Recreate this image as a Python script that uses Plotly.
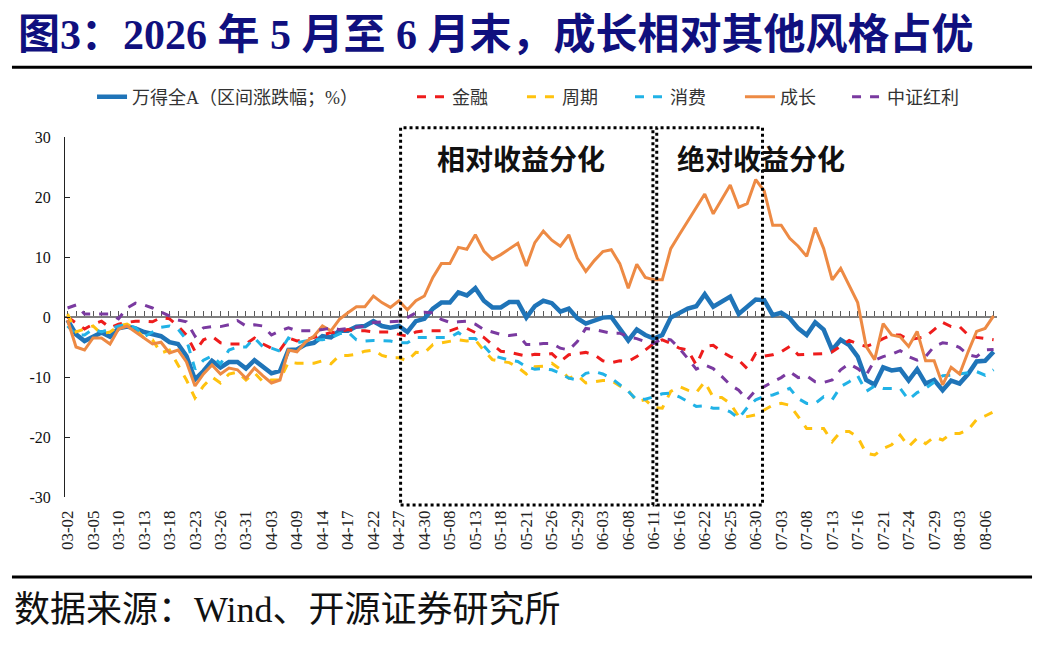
import plotly.graph_objects as go

# Trading days, 2026-03-02 .. 2026-08-07
dates = [
    "03-02", "03-03", "03-04", "03-05", "03-06", "03-09", "03-10", "03-11", "03-12", "03-13",
    "03-16", "03-17", "03-18", "03-19", "03-20", "03-23", "03-24", "03-25", "03-26", "03-27",
    "03-30", "03-31", "04-01", "04-02", "04-03", "04-07", "04-08", "04-09", "04-10", "04-13",
    "04-14", "04-15", "04-16", "04-17", "04-20", "04-21", "04-22", "04-23", "04-24", "04-27",
    "04-28", "04-29", "04-30", "05-06", "05-07", "05-08", "05-11", "05-12", "05-13", "05-14",
    "05-15", "05-18", "05-19", "05-20", "05-21", "05-22", "05-25", "05-26", "05-27", "05-28",
    "05-29", "06-01", "06-02", "06-03", "06-04", "06-05", "06-08", "06-09", "06-10", "06-11",
    "06-12", "06-15", "06-16", "06-17", "06-18", "06-22", "06-23", "06-24", "06-25", "06-26",
    "06-29", "06-30", "07-01", "07-02", "07-03", "07-06", "07-07", "07-08", "07-09", "07-10",
    "07-13", "07-14", "07-15", "07-16", "07-17", "07-20", "07-21", "07-22", "07-23", "07-24",
    "07-27", "07-28", "07-29", "07-30", "07-31", "08-03", "08-04", "08-05", "08-06", "08-07",
]

# 区间涨跌幅（%）
wind_a = [
    -0.5, -2.9, -4.0, -3.2, -2.6, -3.3, -1.9, -1.6, -1.9, -2.5,
    -2.9, -3.2, -4.2, -4.5, -6.5, -10.4, -9.0, -7.3, -8.4, -7.5,
    -7.5, -8.6, -7.2, -8.4, -9.4, -9.0, -5.5, -5.4, -4.6, -4.3,
    -3.2, -3.4, -2.3, -2.3, -1.6, -1.5, -0.7, -1.5, -1.8, -1.5,
    -2.5, -0.7, -0.3, 1.4, 2.4, 2.4, 4.1, 3.6, 4.8, 2.7,
    1.6, 1.6, 2.5, 2.5, -0.1, 1.8, 2.7, 2.3, 0.9, 1.4,
    -0.2, -1.1, -0.5, -0.1, 0.0, -1.9, -3.9, -2.1, -3.0, -3.6,
    -3.0, -0.1, 0.6, 1.4, 1.8, 3.8, 1.7, 2.6, 3.4, 0.5,
    1.6, 2.9, 2.8, 0.3, 0.7, -0.2, -1.9, -3.0, -0.9, -2.1,
    -5.5, -3.8, -4.7, -6.6, -10.5, -11.3, -8.4, -8.9, -8.7, -10.6,
    -8.7, -11.1, -10.5, -12.2, -10.6, -11.1, -9.5, -7.4, -7.3, -5.8,
]
finance = [
    0.0, -1.0, -2.0, -1.2, -0.7, -1.8, -1.2, -0.9, -0.7, -0.7,
    -0.8, -0.1, -0.3, -1.5, -3.0, -5.7, -3.8, -3.2, -4.3, -4.5,
    -4.5, -4.5, -3.5, -4.5, -5.2, -5.5, -3.5, -4.0, -3.8, -3.4,
    -2.9, -2.6, -2.5, -2.1, -2.3, -2.3, -2.5, -2.5, -2.5, -2.9,
    -3.2, -2.5, -2.3, -2.3, -2.3, -2.3, -1.8, -1.9, -2.6, -3.4,
    -4.6, -5.7, -5.9, -6.2, -6.5, -6.2, -6.3, -6.1, -7.4, -6.3,
    -6.1, -5.9, -6.3, -7.3, -7.6, -7.3, -7.4, -6.6, -5.5, -4.4,
    -3.8, -4.4, -5.2, -5.5, -8.0, -4.9, -4.7, -5.8, -6.6, -7.2,
    -8.6, -6.1, -6.5, -6.3, -5.8, -4.9, -6.3, -6.2, -6.2, -6.1,
    -5.8, -4.9, -3.9, -4.5, -4.9, -4.4, -3.6, -3.0, -3.0, -3.8,
    -3.6, -3.3, -2.1, -0.9, -1.6, -1.6, -3.0, -3.4, -3.6, -3.8,
]
cyclical = [
    0.5, -2.5, -2.0, -1.5, -2.8, -2.5, -1.5, -1.2, -2.0, -3.5,
    -3.8, -6.0, -5.5, -8.0, -10.5, -13.5, -11.5, -10.0, -11.0, -9.5,
    -9.2, -10.5, -9.3, -10.8, -10.5, -10.5, -7.5, -7.7, -7.7, -7.7,
    -7.3, -7.8, -6.4, -6.4, -6.2, -5.7, -5.5, -6.4, -6.8, -6.8,
    -7.3, -5.9, -6.0, -4.6, -4.3, -4.0, -3.8, -4.0, -3.8, -5.6,
    -7.1, -7.4, -7.6, -8.4, -9.5, -8.3, -8.2, -7.7, -8.7, -10.2,
    -9.7, -11.0, -10.8, -10.6, -10.6, -11.5, -12.2, -14.1, -13.8, -15.1,
    -15.2, -12.4, -11.6, -12.2, -12.6, -10.8, -13.4, -13.4, -14.4, -16.6,
    -16.6, -16.3, -15.5, -14.7, -14.4, -14.7, -16.6, -18.6, -18.6, -18.6,
    -20.8, -19.1, -19.1, -20.0, -22.7, -23.0, -21.9, -21.3, -19.7, -21.6,
    -20.2, -21.1, -20.0, -20.5, -19.4, -19.4, -18.8, -17.1, -16.5, -15.8,
]
consumer = [
    -1.5, -3.0, -3.0, -2.0, -2.5, -2.0, -1.5, -1.3, -1.8, -3.3,
    -2.5, -1.7, -1.5, -2.0, -3.8, -8.7, -7.2, -6.5, -7.8, -5.5,
    -5.0, -5.0, -3.5, -5.0, -5.2, -5.7, -3.5, -4.3, -4.0, -3.8,
    -3.8, -3.5, -2.8, -2.5, -3.8, -4.0, -3.9, -4.0, -4.0, -4.3,
    -4.3, -3.4, -3.4, -3.4, -3.4, -3.4, -2.6, -3.6, -3.6, -4.8,
    -6.4, -6.8, -7.2, -7.4, -8.3, -8.7, -8.6, -8.8, -9.4, -10.2,
    -10.5, -9.4, -9.1, -9.5, -10.2, -11.3, -12.4, -13.8, -13.7, -13.3,
    -12.8, -12.7, -13.3, -14.1, -14.9, -14.8, -15.2, -15.2, -15.8, -16.9,
    -15.1, -13.8, -13.2, -13.0, -12.4, -11.9, -13.6, -14.4, -14.4, -13.3,
    -13.8, -11.6, -10.8, -9.8, -12.4, -11.5, -11.9, -11.9, -11.9, -13.8,
    -12.6, -11.9, -10.8, -9.8, -9.7, -9.5, -9.4, -9.1, -9.7, -8.8,
]
growth = [
    -0.5, -5.0, -5.5, -3.5, -3.5, -4.5, -2.0, -1.5, -2.5, -3.5,
    -4.5, -4.2, -6.0, -5.5, -7.5, -11.5, -9.5, -8.0, -9.5, -8.5,
    -8.8, -10.2, -8.5, -9.8, -11.0, -10.5, -5.5, -5.8, -4.2, -3.2,
    -1.5, -2.3, -0.4, 0.7, 1.7, 1.7, 3.5, 2.4, 1.6, 2.7,
    1.2, 2.7, 3.5, 6.6, 8.9, 8.9, 11.6, 11.3, 13.7, 11.0,
    9.6, 10.4, 11.4, 12.3, 8.5, 12.4, 14.3, 12.8, 11.8, 13.7,
    9.8, 7.6, 9.4, 10.9, 11.2, 8.9, 4.8, 8.8, 6.6, 6.2,
    6.2, 11.4, 13.7, 15.9, 18.1, 20.5, 17.2, 19.5, 22.0, 18.3,
    18.9, 22.9, 21.0, 15.3, 15.3, 13.1, 11.8, 10.1, 14.9, 11.4,
    6.2, 8.1, 5.3, 2.4, -4.9, -7.1, -1.1, -3.0, -3.3, -4.9,
    -2.4, -7.3, -7.3, -11.3, -8.4, -9.5, -5.8, -2.4, -1.9, 0.2,
]
dividend = [
    1.5, 2.0, 0.5, 0.5, 0.5, 0.5, -0.3, 1.5, 2.3, 2.0,
    1.5, 0.8, 0.2, -0.5, -0.8, -3.2, -1.8, -1.6, -1.6, -1.3,
    -0.6, -1.5, -1.3, -1.5, -3.0, -2.3, -1.8, -2.3, -2.3, -2.3,
    -2.1, -1.8, -2.1, -1.9, -1.8, -1.5, -0.9, -0.8, -0.7, -0.7,
    -0.1, 0.7, 0.8, 0.7, -0.4, -0.9, -0.8, -0.7, -1.2, -2.1,
    -2.5, -2.9, -3.1, -2.9, -4.6, -4.6, -4.4, -4.4, -5.2, -5.5,
    -4.1, -1.9, -2.1, -2.4, -2.7, -2.7, -3.3, -3.6, -4.1, -4.4,
    -3.6, -3.8, -5.2, -6.9, -8.7, -8.0, -8.6, -9.9, -11.3, -12.2,
    -13.8, -12.2, -11.6, -10.8, -10.1, -9.1, -10.1, -9.8, -10.8, -10.9,
    -10.5, -8.8, -7.8, -8.6, -9.7, -7.2, -6.6, -6.2, -5.6, -6.6,
    -7.2, -6.6, -4.9, -4.3, -4.5, -5.1, -6.3, -6.6, -5.5, -5.4,
]

tick_labels = dates[::3]
y_ticks = [-30, -20, -10, 0, 10, 20, 30]
y_tick_text = ["-30", "-20", "-10", "0", "10", "20", "30"]

SERIF = "Liberation Serif, Noto Sans CJK SC"
CJK = "Noto Sans CJK SC"

# name, values, colour, width, dash, legend slot x (paper)
series = [
    ("万得全A（区间涨跌幅；%）", wind_a, "#1f74b8", 4.5, "solid", 0.029),
    ("金融", finance, "#ee1c1c", 3, "dash", 0.3723),
    ("周期", cyclical, "#ffc20e", 3, "dash", 0.4903),
    ("消费", consumer, "#21b2e6", 3, "dash", 0.6062),
    ("成长", growth, "#ed8a44", 3, "solid", 0.7242),
    ("中证红利", dividend, "#7a3aa0", 3, "dash", 0.8391),
]

fig = go.Figure()

# dummy trace so the label axis knows the categories
fig.add_trace(go.Scatter(x=dates, y=[None] * len(dates), xaxis="x2",
                         showlegend=False, hoverinfo="skip"))

legends = {}
for k, (name, vals, col, w, dash, lx) in enumerate(series):
    lg = "legend" if k == 0 else "legend%d" % (k + 1)
    fig.add_trace(go.Scatter(
        x=dates, y=vals, name=name, mode="lines", legend=lg,
        line=dict(color=col, width=w, dash=dash),
    ))
    legends[lg] = dict(
        orientation="h", x=lx, xanchor="left", y=1.111, yanchor="middle",
        font=dict(family=SERIF, size=18, color="#333333"),
        bgcolor="rgba(0,0,0,0)", itemwidth=30,
    )

xr = [-0.3, 109.4]

# the page adds an 8px body margin, so the figure is a bit smaller than the window
fig.update_layout(
    width=1031, height=646,
    paper_bgcolor="white", plot_bgcolor="white",
    margin=dict(l=57, r=42, t=129, b=157),
    showlegend=True,
    **legends,
    # zero line with small tick marks at every trading day
    xaxis=dict(
        type="category", range=xr, anchor="free", position=0.5, side="top",
        showline=True, linecolor="#7f7f7f", linewidth=2,
        ticks="outside", ticklen=5, tickwidth=1, tickcolor="#595959",
        tickmode="linear", tick0=0, dtick=1,
        showticklabels=False, showgrid=False, zeroline=False,
        layer="below traces",
    ),
    # date labels at the bottom
    xaxis2=dict(
        type="category", range=xr, overlaying="x", anchor="y", side="bottom",
        tickmode="array", tickvals=tick_labels, ticktext=tick_labels,
        tickangle=-90, ticks="", showline=False, showgrid=False, zeroline=False,
        ticklabelstandoff=9,
        tickfont=dict(family=SERIF, size=17, color="#222222"),
    ),
    yaxis=dict(
        range=[-30, 30], tickmode="array", tickvals=y_ticks, ticktext=y_tick_text,
        showline=True, linecolor="#222222", linewidth=1,
        ticks="inside", ticklen=5, tickcolor="#222222",
        showgrid=False, zeroline=False, ticklabelstandoff=10,
        tickfont=dict(family=SERIF, size=16, color="#111111"),
    ),
)

# dotted boxes marking the two phases
for x0, x1 in [(39.2, 68.9), (69.35, 81.8)]:
    fig.add_shape(type="rect", xref="x", yref="paper", x0=x0, x1=x1,
                  y0=-0.022, y1=1.026, line=dict(color="black", width=3, dash="dot"))

fig.add_annotation(x=53.4, y=26.5, xref="x", yref="y", text="<b>相对收益分化</b>",
                   showarrow=False, font=dict(family=CJK, size=28, color="#111111"))
fig.add_annotation(x=81.6, y=26.5, xref="x", yref="y", text="<b>绝对收益分化</b>",
                   showarrow=False, font=dict(family=CJK, size=28, color="#111111"))

# title, rules and source
fig.add_annotation(x=-0.053, y=1.283, xref="paper", yref="paper", xanchor="left",
                   yanchor="middle", showarrow=False,
                   text="<b>图3：2026 年 5 月至 6 月末，成长相对其他风格占优</b>",
                   font=dict(family=SERIF, size=42, color="#10107e"))
fig.add_shape(type="line", xref="paper", yref="paper", x0=-0.0569, x1=1.0376,
              y0=1.194, y1=1.194, line=dict(color="black", width=3))
fig.add_shape(type="line", xref="paper", yref="paper", x0=-0.0569, x1=1.0376,
              y0=-0.222, y1=-0.222, line=dict(color="black", width=3))
fig.add_annotation(x=-0.0569, y=-0.314, xref="paper", yref="paper", xanchor="left",
                   yanchor="middle", showarrow=False,
                   text="数据来源：Wind、开源证券研究所",
                   font=dict(family=SERIF, size=36, color="#111111"))

fig.write_html("out.html")
